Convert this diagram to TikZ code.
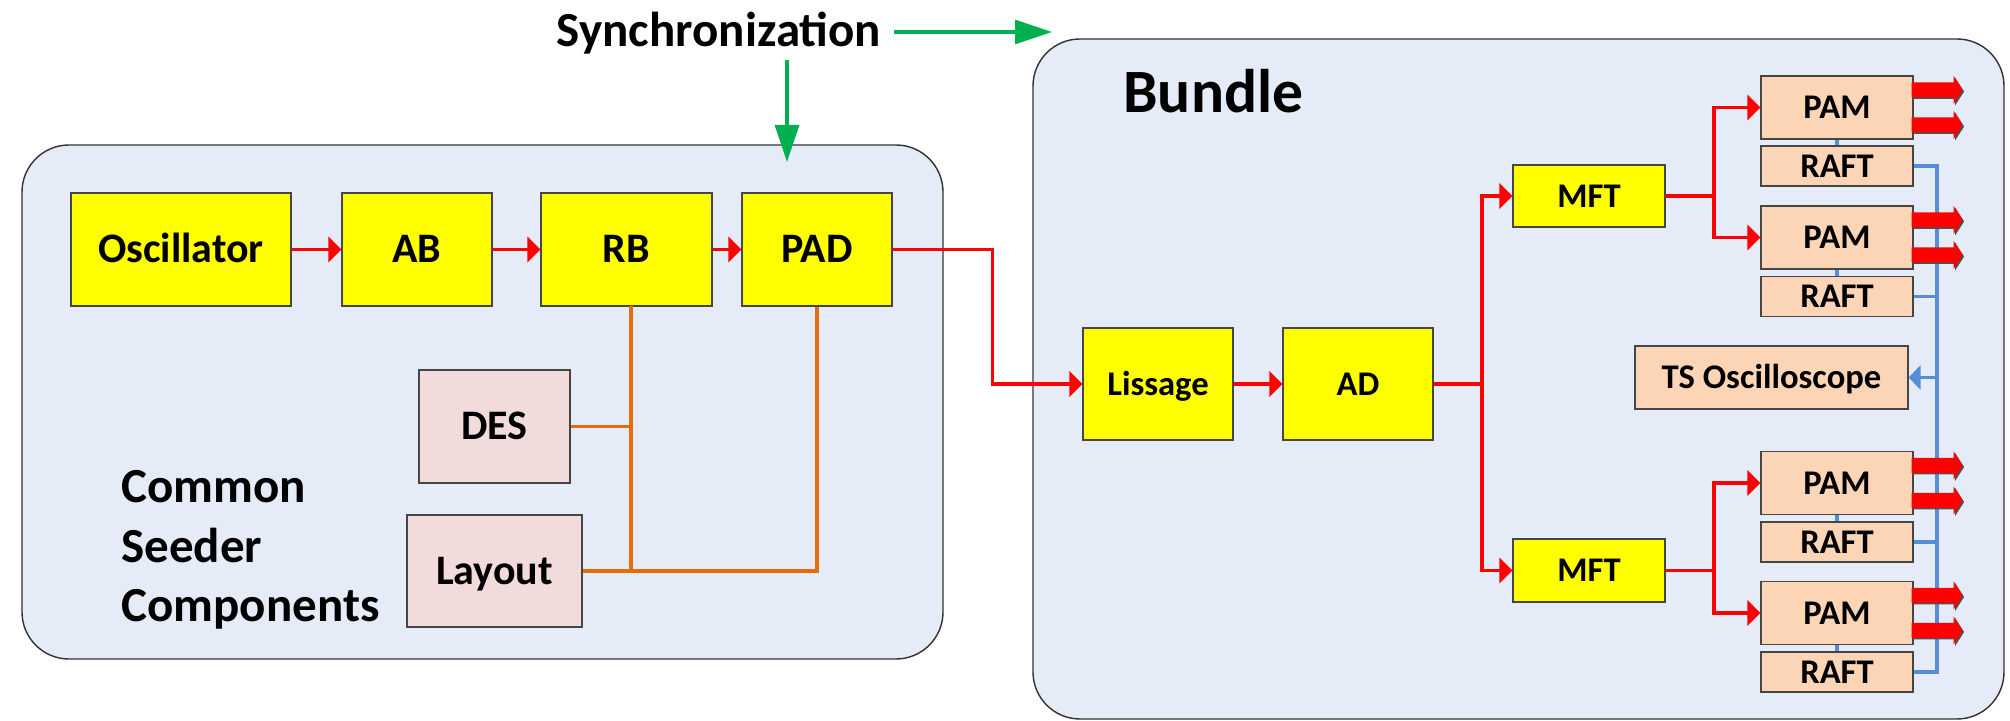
\documentclass[tikz,border=0pt]{standalone}
\usepackage{fontspec}
\setmainfont{Carlito}
\usetikzlibrary{arrows.meta}

\definecolor{panelbg}{RGB}{230,236,247}
\definecolor{panelline}{RGB}{50,50,50}
\definecolor{boxline}{RGB}{70,70,70}
\definecolor{stageyellow}{RGB}{255,255,0}
\definecolor{peach}{RGB}{251,213,181}
\definecolor{rosebox}{RGB}{242,220,219}
\definecolor{sigred}{RGB}{255,0,0}
\definecolor{ctrlorange}{RGB}{228,108,10}
\definecolor{busblue}{RGB}{85,142,213}
\definecolor{syncgreen}{RGB}{0,176,80}
\definecolor{arrowshadow}{RGB}{80,80,80}

\begin{document}
\begin{tikzpicture}[x=0.5pt,y=-0.5pt,
  sz/.style 2 args={minimum width=#1*0.5pt, minimum height=#2*0.5pt},
  blk/.style={draw=boxline, line width=0.6pt, inner sep=0pt, text depth=0pt},
  bigtxt/.style={font=\bfseries\fontsize{21}{25}\selectfont, text height=13.5pt},
  smalltxt/.style={font=\bfseries\fontsize{17.3}{21}\selectfont, text height=11.1pt},
  panel/.style={draw=panelline, line width=0.7pt, fill=panelbg, rounded corners=23.5pt},
  redarrow/.style={draw=sigred, line width=1.8pt, -{Triangle[length=6.5pt,width=12.5pt]}},
  redline/.style={draw=sigred, line width=1.8pt},
  orangeline/.style={draw=ctrlorange, line width=1.8pt},
  blueline/.style={draw=busblue, line width=1.8pt},
  bluearrow/.style={draw=busblue, line width=1.8pt, -{Triangle[length=6pt,width=12pt]}},
  greenarrow/.style={draw=syncgreen, line width=1.6pt, -{Triangle[length=18.5pt,width=12pt]}},
  fatarrow/.pic={
    \fill[arrowshadow, shift={(1.5,1.5)}] (-2,-7.5) -- (40,-7.5) -- (40,-14) -- (49,0) -- (40,14) -- (40,7.5) -- (-2,7.5) -- cycle;
    \fill[sigred] (-2,-7.5) -- (40,-7.5) -- (40,-14) -- (49,0) -- (40,14) -- (40,7.5) -- (-2,7.5) -- cycle;
  }
]
\useasboundingbox (0,0) rectangle (2010,721);

% panels
\draw[panel] (22,145) rectangle (943,659);
\draw[panel] (1033,39) rectangle (2004,719);

% titles
\node[anchor=base, inner sep=2.5pt, font=\bfseries\fontsize{24.5}{29}\selectfont] (sync) at (719,47) {Synchronization};
\node[anchor=base west, inner sep=0pt, font=\bfseries\fontsize{30.8}{36}\selectfont] (bundle) at (1123,113) {Bundle};
\node[anchor=base west, inner sep=0pt, align=left, font=\bfseries\fontsize{24.5}{29.75}\selectfont] (common) at (121,622) {Common\\Seeder\\Components};

% seeder chain
\node[blk, bigtxt, fill=stageyellow, sz={220}{113}] (osc) at (181,249.5) {Oscillator};
\node[blk, bigtxt, fill=stageyellow, sz={150}{113}] (ab) at (417,249.5) {AB};
\node[blk, bigtxt, fill=stageyellow, sz={171}{113}] (rb) at (626.5,249.5) {RB};
\node[blk, bigtxt, fill=stageyellow, sz={150}{113}] (pad) at (817,249.5) {PAD};
\node[blk, bigtxt, fill=rosebox, sz={151}{113}] (des) at (494.5,426.5) {DES};
\node[blk, bigtxt, fill=rosebox, sz={175}{112}] (layout) at (494.5,571) {Layout};

% bundle chain
\node[blk, smalltxt, fill=stageyellow, sz={150}{112}] (lis) at (1158,384) {Lissage};
\node[blk, smalltxt, fill=stageyellow, sz={150}{112}] (ad) at (1358,384) {AD};
\node[blk, smalltxt, fill=stageyellow, sz={152}{62}] (mftA) at (1589,196) {MFT};
\node[blk, smalltxt, fill=stageyellow, sz={152}{63}] (mftB) at (1589,570.5) {MFT};
\node[blk, smalltxt, fill=peach, sz={152}{63}] (pamA) at (1837,107.5) {PAM};
\node[blk, smalltxt, fill=peach, sz={152}{40}] (raftA) at (1837,166) {RAFT};
\node[blk, smalltxt, fill=peach, sz={152}{63}] (pamB) at (1837,237.5) {PAM};
\node[blk, smalltxt, fill=peach, sz={152}{40}] (raftB) at (1837,296.5) {RAFT};
\node[blk, smalltxt, fill=peach, sz={152}{63}] (pamC) at (1837,483) {PAM};
\node[blk, smalltxt, fill=peach, sz={152}{40}] (raftC) at (1837,542) {RAFT};
\node[blk, smalltxt, fill=peach, sz={152}{63}] (pamD) at (1837,613) {PAM};
\node[blk, smalltxt, fill=peach, sz={152}{40}] (raftD) at (1837,672) {RAFT};
\node[blk, smalltxt, fill=peach, sz={273}{63}] (ts) at (1771.5,377.5) {TS Oscilloscope};

% synchronization arrows
\coordinate (syncDown) at (787,162);
\coordinate (syncRight) at (1052,32);
\draw[greenarrow] (sync.south -| syncDown) -- (syncDown);
\draw[greenarrow, shorten <=4pt] (sync.east |- syncRight) -- (syncRight);

% seeder signal path
\draw[redarrow] (osc) -- (ab);
\draw[redarrow] (ab) -- (rb);
\draw[redarrow] (rb) -- (pad);
\draw[redarrow] (pad.east) -- ++(100,0) |- (lis.west);

% control links
\coordinate (ctrlX) at (631,306);
\draw[orangeline] (ctrlX) |- (layout.east);
\draw[orangeline] (des.east) -- (des.east -| ctrlX);
\draw[orangeline] (layout.east) -| (pad.south);

% bundle signal path
\draw[redarrow] (lis) -- (ad);
\coordinate (adSplit) at (1482,384);
\draw[redline] (ad.east) -- (adSplit);
\draw[redarrow] (adSplit) |- (mftA.west);
\draw[redarrow] (adSplit) |- (mftB.west);
\coordinate (splitA) at (1714,196);
\coordinate (splitB) at (1714,570.5);
\draw[redline] (mftA.east) -- (splitA);
\draw[redarrow] (splitA) |- (pamA.west);
\draw[redarrow] (splitA) |- (pamB.west);
\draw[redline] (mftB.east) -- (splitB);
\draw[redarrow] (splitB) |- (pamC.west);
\draw[redarrow] (splitB) |- (pamD.west);

% monitoring bus
\foreach \p/\r in {pamA/raftA, pamB/raftB, pamC/raftC, pamD/raftD}
  \draw[blueline] (\p.south) -- (\r.north);
\coordinate (busTop) at (1937,166);
\coordinate (busBot) at (1937,672);
\draw[blueline] (raftA.east) -- (busTop) -- (busBot) -- (raftD.east);
\draw[blueline] (raftB.east) -- (raftB.east -| busTop);
\draw[blueline] (raftC.east) -- (raftC.east -| busTop);
\draw[bluearrow] (ts.east -| busTop) -- (ts.east);

% amplifier outputs
\foreach \p in {pamA, pamB, pamC, pamD} {
  \pic at ([yshift=8.75pt]\p.east) {fatarrow};
  \pic at ([yshift=-8.75pt]\p.east) {fatarrow};
}
\end{tikzpicture}
\end{document}
